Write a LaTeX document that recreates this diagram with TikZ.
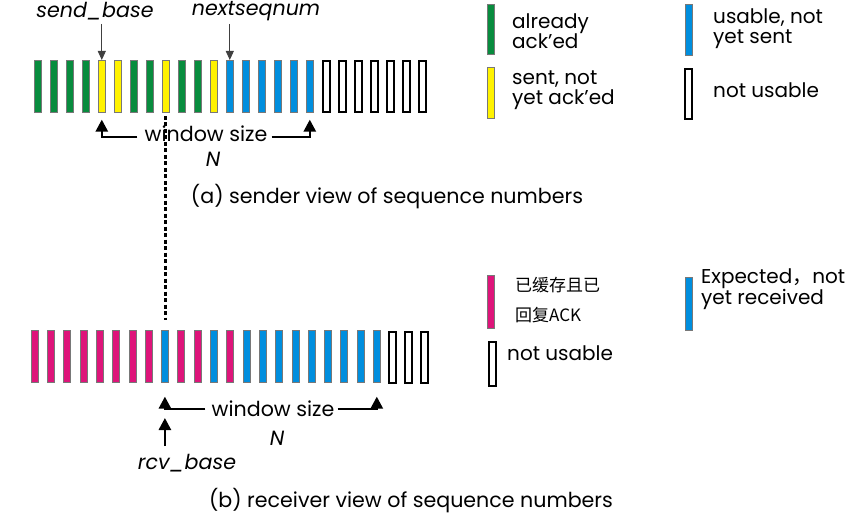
\documentclass[tikz,border=0pt]{standalone}
\usepackage{fontspec}
\setmainfont{Poppins}
\newfontfamily\cjk{Noto Sans CJK SC}
\usetikzlibrary{arrows.meta}
\definecolor{ackgreen}{RGB}{8,140,62}
\definecolor{sentyellow}{RGB}{255,242,0}
\definecolor{usablue}{RGB}{0,142,222}
\definecolor{bufmag}{RGB}{222,20,122}
\definecolor{edgegrey}{RGB}{120,120,120}
\begin{document}
\begin{tikzpicture}[x=1pt,y=-1pt,
  bar/.style={draw=edgegrey,line width=0.6pt,inner sep=0pt,minimum width=7pt,minimum height=52pt,anchor=north west},
  freebar/.style={draw=black,line width=2pt,fill=white,inner sep=0pt,minimum width=7pt,minimum height=51pt,anchor=north west},
  lbl/.style={font=\fontsize{20.6}{21}\selectfont,inner sep=0pt},
  ilbl/.style={font=\fontsize{20.6}{21}\selectfont\itshape,inner sep=0pt},
  leg/.style={font=\fontsize{20}{20}\selectfont,inner sep=0pt,anchor=west,align=left},
  cjklbl/.style={inner sep=0pt,anchor=west,font=\cjk\fontsize{17}{17}\selectfont},
  thinarrow/.style={draw=black!75,line width=0.9pt,-{Triangle[length=9pt,width=8pt]}},
  winarrow/.style={draw=black,line width=2.6pt,-{Triangle[length=12pt,width=12pt]}},
  sep/.style={draw=black,line width=3pt,dash pattern=on 4pt off 2.5pt}]
\useasboundingbox (0,0) rectangle (865,516);
% sender bars
\foreach \c [count=\i] in {ackgreen,ackgreen,ackgreen,ackgreen,sentyellow,sentyellow,ackgreen,ackgreen,sentyellow,ackgreen,ackgreen,sentyellow,usablue,usablue,usablue,usablue,usablue,usablue}
  \node[bar,fill=\c] (t\i) at ({34+16*(\i-1)},60) {};
\foreach \i in {19,...,25}
  \node[freebar] (t\i) at ({322+16*(\i-19)},60.5) {};
% receiver bars
\foreach \c [count=\i] in {bufmag,bufmag,bufmag,bufmag,bufmag,bufmag,bufmag,bufmag,usablue,bufmag,bufmag,usablue,bufmag,usablue,usablue,usablue,usablue,usablue,usablue,usablue,usablue,usablue}
  \node[bar,fill=\c] (r\i) at ({30.7+16.3*(\i-1)},330) {};
\foreach \i in {23,24,25}
  \node[freebar] (r\i) at ({387.5+16.3*(\i-23)},330.5) {};
% sender labels
\node[ilbl] (sb) at (95,11) {send\_base};
\node[ilbl] (ns) at (256,11) {nextseqnum};
\coordinate (sbs) at (t5.north |- 0,24);
\coordinate (nss) at (t13.north |- 0,24);
\draw[thinarrow] (sbs) -- (t5.north);
\draw[thinarrow] (nss) -- (t13.north);
\node[lbl] (ws1) at (206,134) {window size};
\node[ilbl] (n1) at (213,159) {N};
\draw[winarrow] (ws1.west) ++(-7,3) -| ([yshift=-7pt]t5.south);
\draw[winarrow] (ws1.east) ++(4,3) -| ([yshift=-7pt]t18.south);
\node[lbl] (capa) at (387,197) {(a) sender view of sequence numbers};
% dashed separator
\coordinate (d1) at (165,116);
\coordinate (d2) at (165,320);
\draw[sep] (d1) -- (d2);
% receiver labels
\node[lbl] (ws2) at (273,409) {window size};
\node[ilbl] (n2) at (277,438) {N};
\draw[winarrow] (ws2.west) ++(-6,0) -| ([yshift=-14pt]r9.south);
\draw[winarrow] (ws2.east) ++(3,0) -| ([yshift=-14pt]r22.south);
\node[ilbl] (rb) at (187,463) {rcv\_base};
\coordinate (rbs) at (r9.south |- 0,446);
\draw[winarrow] (rbs) -- ++(0,-28);
\node[lbl] (capb) at (411,501) {(b) receiver view of sequence numbers};
% sender legend
\node[bar,fill=ackgreen,minimum height=50pt] (lg) at (487,4) {};
\node[leg] at (512,31) {already\\ack'ed};
\node[bar,fill=sentyellow,minimum height=51pt] (ly) at (487,67) {};
\node[leg] at (512,90) {sent, not\\yet ack'ed};
\node[bar,fill=usablue,minimum height=51pt] (lb) at (685,4) {};
\node[leg] at (713,29) {usable, not\\yet sent};
\node[freebar,minimum height=50pt] (lw) at (684,68) {};
\node[leg] at (713,90) {not usable};
% receiver legend
\node[bar,fill=bufmag,minimum height=53pt] (lm) at (487,275) {};
\node[cjklbl] at (515,285) {已缓存且已};
\node[cjklbl] at (515,315) {回复ACK};
\node[bar,fill=usablue,minimum height=53pt] (lb2) at (685,277) {};
\node[leg] at (701,289) {Expected{\cjk ，}not\\yet received};
\node[freebar,minimum height=44pt] (lw2) at (488,341) {};
\node[leg] at (507,353) {not usable};
\end{tikzpicture}
\end{document}
